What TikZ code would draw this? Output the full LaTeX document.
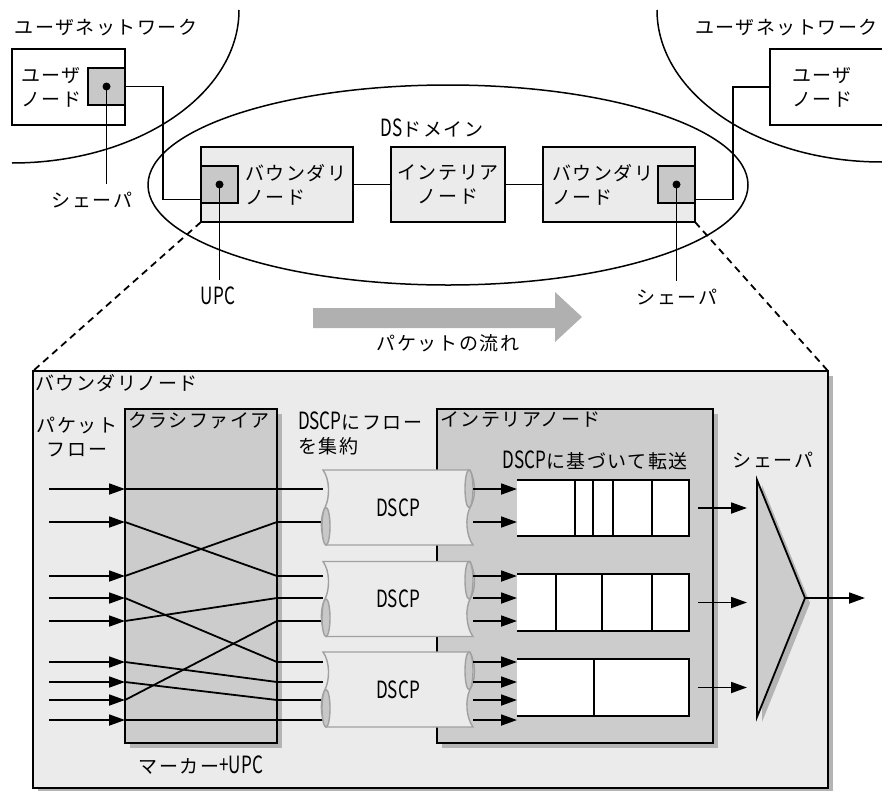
\documentclass[tikz,border=0pt]{standalone}
\usepackage{fontspec}
\usepackage{tikz}
\usetikzlibrary{positioning,arrows.meta,shadows}
\newfontfamily\jp[LetterSpace=8]{Noto Sans CJK JP}
\newfontfamily\jpn[FakeStretch=0.72, Scale=1.25]{Noto Sans CJK JP}
\newcommand\ltn[1]{{\jpn #1}}
\definecolor{panelgray}{HTML}{EBEBEB}
\definecolor{boxgray}{HTML}{CCCCCC}
\definecolor{capgray}{HTML}{C8C8C8}
\definecolor{shadowgray}{HTML}{B4B4B4}
\definecolor{flowgray}{HTML}{B0B0B0}
\definecolor{pipeedge}{HTML}{A0A0A0}

\begin{document}
\begin{tikzpicture}[x=1pt, y=-1pt, every node/.style={font=\jp\fontsize{19}{24}\selectfont, inner sep=0pt, outer sep=0pt}]
\tikzstyle{line} = [line width=1.8pt]
\tikzstyle{arrow} = [line,->,>={Triangle[length=16pt,width=11pt]}]
\tikzstyle{boxshadow} = [drop shadow={shadow xshift=5pt, shadow yshift=-5pt, fill=shadowgray, opacity=1}]
\tikzstyle{ubox} = [rectangle, draw, line, fill=white, minimum height=76]
\tikzstyle{bbox} = [rectangle, draw, line, fill=panelgray, minimum height=75]
\tikzstyle{sqbox} = [rectangle, draw, line, fill=capgray, minimum width=37, minimum height=37]
\tikzstyle{graybox} = [rectangle, draw, line, fill=boxgray, boxshadow]
\tikzstyle{queue} = [rectangle, fill=white, minimum width=172]
\newcommand\pipeshape[1]{
  \begin{scope}[shift={(#1)}]
  \draw[line width=1.4pt, draw=pipeedge, fill=panelgray] (-73,-37.5) -- (72,-37.5)
    .. controls (78,-25) and (78,-10) .. (72,0) .. controls (67,10) and (68,28) .. (75,37.5)
    -- (-72,37.5) .. controls (-78,25) and (-78,10) .. (-73,0) .. controls (-68,-10) and (-68,-28) .. (-75,-37.5) -- cycle;
  \draw[line width=1.4pt, draw=pipeedge, fill=capgray] (71,-18.75) ellipse [x radius=4, y radius=18.75];
  \draw[line width=1.4pt, draw=pipeedge, fill=capgray] (-72,18.75) ellipse [x radius=4, y radius=18.75];
  \end{scope}}

\useasboundingbox (0,0) rectangle (882,790);

% user networks and DS domain
\draw[line width=1.5pt] (239,10) arc[start angle=0, end angle=90, x radius=227, y radius=153];
\draw[line width=1.5pt] (657,10) arc[start angle=180, end angle=90, x radius=225, y radius=152];
\draw[line width=1.5pt] (448,185) ellipse [x radius=300, y radius=100];
\node (lnet) at (106,28) {ユーザネットワーク};
\node[anchor=west] (rnet) at (695,28) {ユーザネットワーク};
\node (dsdom) at (432,128) {\ltn{DS}ドメイン};

\node[ubox, minimum width=113] (luser) at (68.5,87) {};
\node[anchor=west, align=left] at ([xshift=9pt]luser.west) {ユーザ\\ノード};
\node[sqbox] (lshaper) at (106.5,86.5) {};
\node[ubox, minimum width=130, anchor=west] (ruser) at (770,87) {};
\node[anchor=west, align=left] at ([xshift=22pt]ruser.west) {ユーザ\\ノード};

\node[bbox, minimum width=152] (lbound) at (277,184.5) {};
\node[anchor=west, align=left] at ([xshift=44pt]lbound.west) {バウンダリ\\ノード};
\node[sqbox, anchor=west] (lupc) at (lbound.west) {};
\node[bbox, minimum width=114, align=center] (inode) at (448,184.5) {インテリア\\ノード};
\node[bbox, minimum width=152] (rbound) at (619,184.5) {};
\node[anchor=west, align=left] at ([xshift=9pt]rbound.west) {バウンダリ\\ノード};
\node[sqbox, anchor=east] (rshaper) at (rbound.east) {};

\draw[line] (lbound) -- (inode);
\draw[line] (inode) -- (rbound);
\draw[line] (lshaper.east) -- ++(38,0) |- ([yshift=-15pt]lupc.west);
\draw[line] ([yshift=-15pt]rshaper.east) -- ++(38,0) |- (ruser.west);

\node (lshlabel) at (92,200) {シェーパ};
\node (upclabel) at (218,296) {\ltn{UPC}};
\node (rshlabel) at (677,297) {シェーパ};
\fill (lshaper.center) circle (4pt);
\fill (lupc.center) circle (4pt);
\fill (rshaper.center) circle (4pt);
\draw[line, shorten >=8pt] (lshaper.center) -- (lshaper.center |- lshlabel.north);
\draw[line, shorten >=7pt] (lupc.center) -- (lupc.center |- upclabel.north);
\draw[line, shorten >=8pt] (rshaper.center) -- (rshaper.center |- rshlabel.north);

% packet flow
\fill[flowgray] (313,308) -- (555,308) -- (555,292) -- (582,317) -- (555,342) -- (555,328) -- (313,328) -- cycle;
\node (flowlabel) at (448,343) {パケットの流れ};

% boundary node detail
\node[rectangle, draw, line, fill=panelgray, boxshadow, minimum width=795, minimum height=417] (panel) at (430.5,579.5) {};
\draw[line, dash pattern=on 7pt off 5pt] (lbound.south west) -- (panel.north west);
\draw[line, dash pattern=on 7pt off 5pt] (rbound.south east) -- (panel.north east);
\node[anchor=north west] at ([shift={(2pt,-3pt)}]panel.north west) {バウンダリノード};

\node[graybox, minimum width=152, minimum height=334] (cls) at (201,576) {};
\node[anchor=north west] at ([shift={(3pt,-3pt)}]cls.north west) {クラシファイア};
\node[align=center] (flowin) at (77,437) {パケット\\フロー};
\node (marker) at (201,765) {マーカー\ltn{+UPC}};
\node[anchor=north west, align=left] (aggr) at (298,412) {\ltn{DSCP}にフロー\\を集約};

\node[graybox, minimum width=276, minimum height=334] (inter) at (575,576) {};
\node[anchor=north west] at ([shift={(3pt,-3pt)}]inter.north west) {インテリアノード};
\node (fwd) at (595,460) {\ltn{DSCP}に基づいて転送};
\node (shlabel) at (773,460) {シェーパ};

% flows into the classifier
\coordinate (r1) at (49,489);
\coordinate (r2) at (49,522);
\coordinate (r3) at (49,576);
\coordinate (r4) at (49,598);
\coordinate (r5) at (49,621);
\coordinate (r6) at (49,662);
\coordinate (r7) at (49,682);
\coordinate (r8) at (49,700);
\coordinate (r9) at (49,720);
\draw[arrow] (r1) -- (cls.west |- r1);
\draw[arrow] (r2) -- (cls.west |- r2);
\draw[arrow] (r3) -- (cls.west |- r3);
\draw[arrow] (r4) -- (cls.west |- r4);
\draw[arrow] (r5) -- (cls.west |- r5);
\draw[arrow] (r6) -- (cls.west |- r6);
\draw[arrow] (r7) -- (cls.west |- r7);
\draw[arrow] (r8) -- (cls.west |- r8);
\draw[arrow] (r9) -- (cls.west |- r9);

% classification
\draw[line] (cls.west |- r1) -- (cls.east |- r1);
\draw[line] (cls.west |- r2) -- (cls.east |- r3);
\draw[line] (cls.west |- r3) -- (cls.east |- r2);
\draw[line] (cls.west |- r4) -- (cls.east |- r6);
\draw[line] (cls.west |- r5) -- (cls.east |- r4);
\draw[line] (cls.west |- r6) -- (cls.east |- r7);
\draw[line] (cls.west |- r7) -- (cls.east |- r8);
\draw[line] (cls.west |- r8) -- (cls.east |- r5);
\draw[line] (cls.west |- r9) -- (cls.east |- r9);

% DSCP aggregates
\node[minimum width=150, minimum height=75] (pipe1) at (398,507.5) {};
\node[minimum width=150, minimum height=76] (pipe2) at (398,599) {};
\node[minimum width=150, minimum height=75] (pipe3) at (398,689.5) {};
\draw[line] (cls.east |- r1) -- (pipe1.west |- r1);
\draw[line] (cls.east |- r2) -- (pipe1.west |- r2);
\draw[line] (cls.east |- r3) -- (pipe2.west |- r3);
\draw[line] (cls.east |- r4) -- (pipe2.west |- r4);
\draw[line] (cls.east |- r5) -- (pipe2.west |- r5);
\draw[line] (cls.east |- r6) -- (pipe3.west |- r6);
\draw[line] (cls.east |- r7) -- (pipe3.west |- r7);
\draw[line] (cls.east |- r8) -- (pipe3.west |- r8);
\draw[line] (cls.east |- r9) -- (pipe3.west |- r9);
\pipeshape{pipe1}
\pipeshape{pipe2}
\pipeshape{pipe3}
\node at (pipe1) {\ltn{DSCP}};
\node at (pipe2) {\ltn{DSCP}};
\node at (pipe3) {\ltn{DSCP}};

% queues
\node[queue, minimum height=56] (q1) at (603,508) {};
\node[queue, minimum height=57] (q2) at (603,602.5) {};
\node[queue, minimum height=57] (q3) at (603,687.5) {};
\draw[line] (q1.north west) -- (q1.north east) -- (q1.south east) -- (q1.south west);
\draw[line] (q2.north west) -- (q2.north east) -- (q2.south east) -- (q2.south west);
\draw[line] (q3.north west) -- (q3.north east) -- (q3.south east) -- (q3.south west);
\foreach \d in {58,76,96,135} \draw[line] ([xshift=\d pt]q1.north west) -- ([xshift=\d pt]q1.south west);
\foreach \d in {39,85,135} \draw[line] ([xshift=\d pt]q2.north west) -- ([xshift=\d pt]q2.south west);
\draw[line] ([xshift=77pt]q3.north west) -- ([xshift=77pt]q3.south west);

\draw[arrow] (pipe1.east |- r1) -- (q1.west |- r1);
\draw[arrow] (pipe1.east |- r2) -- (q1.west |- r2);
\draw[arrow] (pipe2.east |- r3) -- (q2.west |- r3);
\draw[arrow] (pipe2.east |- r4) -- (q2.west |- r4);
\draw[arrow] (pipe2.east |- r5) -- (q2.west |- r5);
\draw[arrow] (pipe3.east |- r6) -- (q3.west |- r6);
\draw[arrow] (pipe3.east |- r7) -- (q3.west |- r7);
\draw[arrow] (pipe3.east |- r8) -- (q3.west |- r8);
\draw[arrow] (pipe3.east |- r9) -- (q3.west |- r9);

% shaper
\coordinate (shptop) at (757,480);
\coordinate (shptip) at (805,598);
\coordinate (shpbot) at (757,717);
\coordinate (out) at (865,598);
\draw[line, fill=boxgray, boxshadow] (shptop) -- (shptip) -- (shpbot) -- cycle;
\draw[arrow, shorten >=10pt] ([xshift=9pt]q1.east) -- (shptop |- q1.east);
\draw[arrow, shorten >=10pt] ([xshift=9pt]q2.east) -- (shptop |- q2.east);
\draw[arrow, shorten >=10pt] ([xshift=9pt]q3.east) -- (shptop |- q3.east);
\draw[arrow] (shptip) -- (out);
\end{tikzpicture}
\end{document}
